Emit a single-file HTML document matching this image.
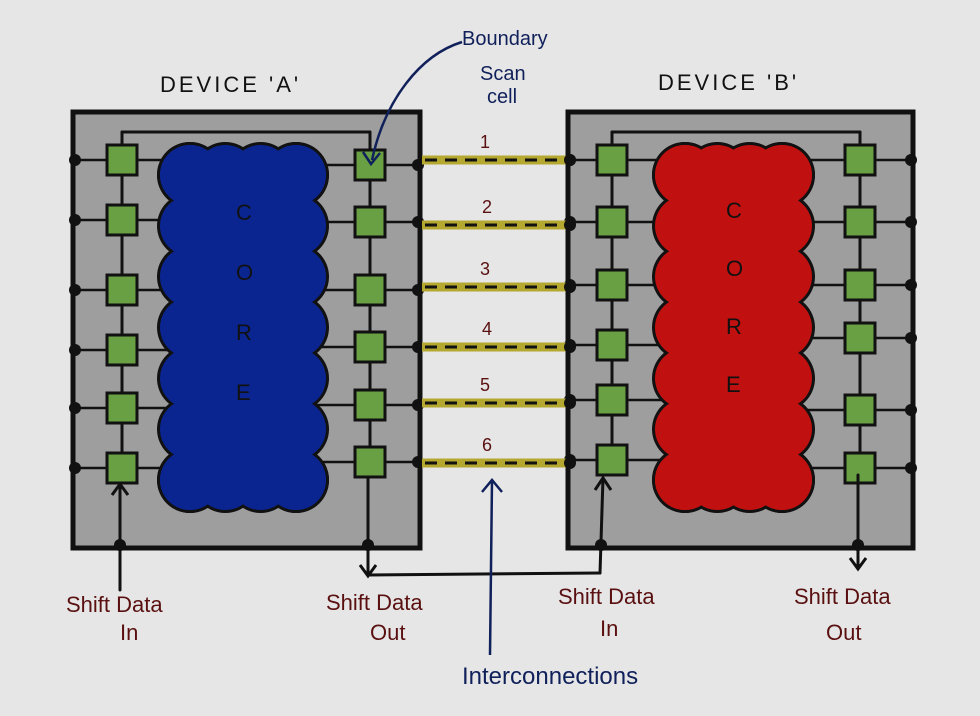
<!DOCTYPE html>
<html><head><meta charset="utf-8"><style>
html,body{margin:0;padding:0;background:#e6e6e6;}
svg{display:block}
text{font-family:"Liberation Sans",sans-serif;}
</style></head><body>
<svg id="s" width="980" height="716" viewBox="0 0 980 716" xmlns="http://www.w3.org/2000/svg">
<rect width="980" height="716" fill="#e6e6e6"/>
<g id="g"></g>
<text x="160" y="92" font-size="22" fill="#111" letter-spacing="3">DEVICE 'A'</text>
<text x="658" y="90" font-size="22" fill="#111" letter-spacing="3">DEVICE 'B'</text>
<text x="462" y="45" font-size="20" fill="#10205a">Boundary</text>
<text x="480" y="80" font-size="20" fill="#10205a">Scan</text>
<text x="487" y="103" font-size="20" fill="#10205a">cell</text>
<path d="M462,42 C420,55 385,100 372,160" stroke="#10205a" stroke-width="2.5" fill="none"/>
<path d="M363,152 L371,164 L380,153" stroke="#10205a" stroke-width="2.5" fill="none"/>
<path d="M490,655 L492,480" stroke="#10205a" stroke-width="2.5" fill="none"/>
<path d="M482,492 L492,480 L502,492" stroke="#10205a" stroke-width="2.5" fill="none"/>
<text x="462" y="684" font-size="24" fill="#10205a">Interconnections</text>
<g fill="#5a1010" font-size="22">
<text x="66" y="612">Shift Data</text><text x="120" y="640">In</text>
<text x="326" y="610">Shift Data</text><text x="370" y="640">Out</text>
<text x="558" y="604">Shift Data</text><text x="600" y="636">In</text>
<text x="794" y="604">Shift Data</text><text x="826" y="640">Out</text>
</g>
</svg>
<script>
var g=document.getElementById('g'),h='';
function L(x1,y1,x2,y2,w,c){h+='<line x1="'+x1+'" y1="'+y1+'" x2="'+x2+'" y2="'+y2+'" stroke="'+(c||'#111')+'" stroke-width="'+(w||3)+'" stroke-linecap="round"/>';}
function cloud(x1,y1,x2,y2,col){
 var cs=[],r=30;
 for(var y=y1+r;y<=y2-r+1;y+=(y2-y1-2*r)/6){cs.push([x1+r,y]);cs.push([x2-r,y]);}
 for(var x=x1+r;x<=x2-r+1;x+=(x2-x1-2*r)/3){cs.push([x,y1+r]);cs.push([x,y2-r]);}
 var s='';cs.forEach(function(c){s+='<circle cx="'+c[0]+'" cy="'+c[1]+'" r="'+(r+3)+'" fill="#111"/>';});
 s+='<rect x="'+(x1+r)+'" y="'+(y1+r)+'" width="'+(x2-x1-2*r)+'" height="'+(y2-y1-2*r)+'" fill="'+col+'"/>';
 cs.forEach(function(c){s+='<circle cx="'+c[0]+'" cy="'+c[1]+'" r="'+r+'" fill="'+col+'"/>';});
 h+=s;
}
function cell(cx,cy,s){s=s||30;h+='<rect x="'+(cx-s/2)+'" y="'+(cy-s/2)+'" width="'+s+'" height="'+s+'" fill="#68a043" stroke="#111" stroke-width="3"/>';}
function dot(x,y){h+='<circle cx="'+x+'" cy="'+y+'" r="6" fill="#111"/>';}
function dev(x1,x2,cl,cr,rl,rr,cx1,cx2,col){
 h+='<rect x="'+x1+'" y="112" width="'+(x2-x1)+'" height="436" fill="#9e9e9e" stroke="#111" stroke-width="5"/>';
 for(var i=0;i<6;i++){L(x1,rl[i],cx1+20,rl[i],2.5);L(cx2-20,rr[i],x2,rr[i],2.5);dot(x1+2,rl[i]);dot(x2-2,rr[i]);}
 L(cl,132,cr,132,3);L(cl,132,cl,rl[0]);L(cr,132,cr,rr[0]);
 L(cl,rl[0],cl,rl[5]);L(cr,rr[0],cr,rr[5]);
 cloud(cx1,145,cx2,510,col);
 for(var i=0;i<6;i++){cell(cl,rl[i]);cell(cr,rr[i]);}
}
dev(73,420,122,370,[160,220,290,350,408,468],[165,222,290,347,405,462],160,326,'#0a2590');
dev(568,913,612,860,[160,222,285,345,400,460],[160,222,285,338,410,468],655,812,'#c01010');
var iy=[160,225,287,347,403,463];
for(var i=0;i<6;i++){
 h+='<line x1="422" y1="'+iy[i]+'" x2="566" y2="'+iy[i]+'" stroke="#b5a830" stroke-width="9"/>';
 h+='<line x1="425" y1="'+iy[i]+'" x2="566" y2="'+iy[i]+'" stroke="#111" stroke-width="3" stroke-dasharray="12,8"/>';
 dot(570,iy[i]);
 h+='<text x="'+(480+(i%2)*2)+'" y="'+(iy[i]-12)+'" font-size="18" fill="#5a1010">'+(i+1)+'</text>';
}
// core letters
['C','O','R','E'].forEach(function(c,k){
 h+='<text x="236" y="'+(220+k*60)+'" font-size="22" fill="#111">'+c+'</text>';
 h+='<text x="726" y="'+(218+k*58)+'" font-size="22" fill="#111">'+c+'</text>';
});
// shift paths
L(120,590,120,485,3);h+='<path d="M112,495 L120,484 L128,495" stroke="#111" stroke-width="3" fill="none"/>';dot(120,545);
L(368,478,368,575,3);L(368,575,600,573,3);L(600,573,603,478,3);dot(368,545);dot(601,545);
h+='<path d="M360,565 L368,576 L376,565" stroke="#111" stroke-width="3" fill="none"/>';
h+='<path d="M595,490 L603,478 L611,490" stroke="#111" stroke-width="3" fill="none"/>';
L(858,475,858,568,3);dot(858,545);h+='<path d="M850,558 L858,569 L866,558" stroke="#111" stroke-width="3" fill="none"/>';
g.innerHTML=h;
</script>
</body></html>
